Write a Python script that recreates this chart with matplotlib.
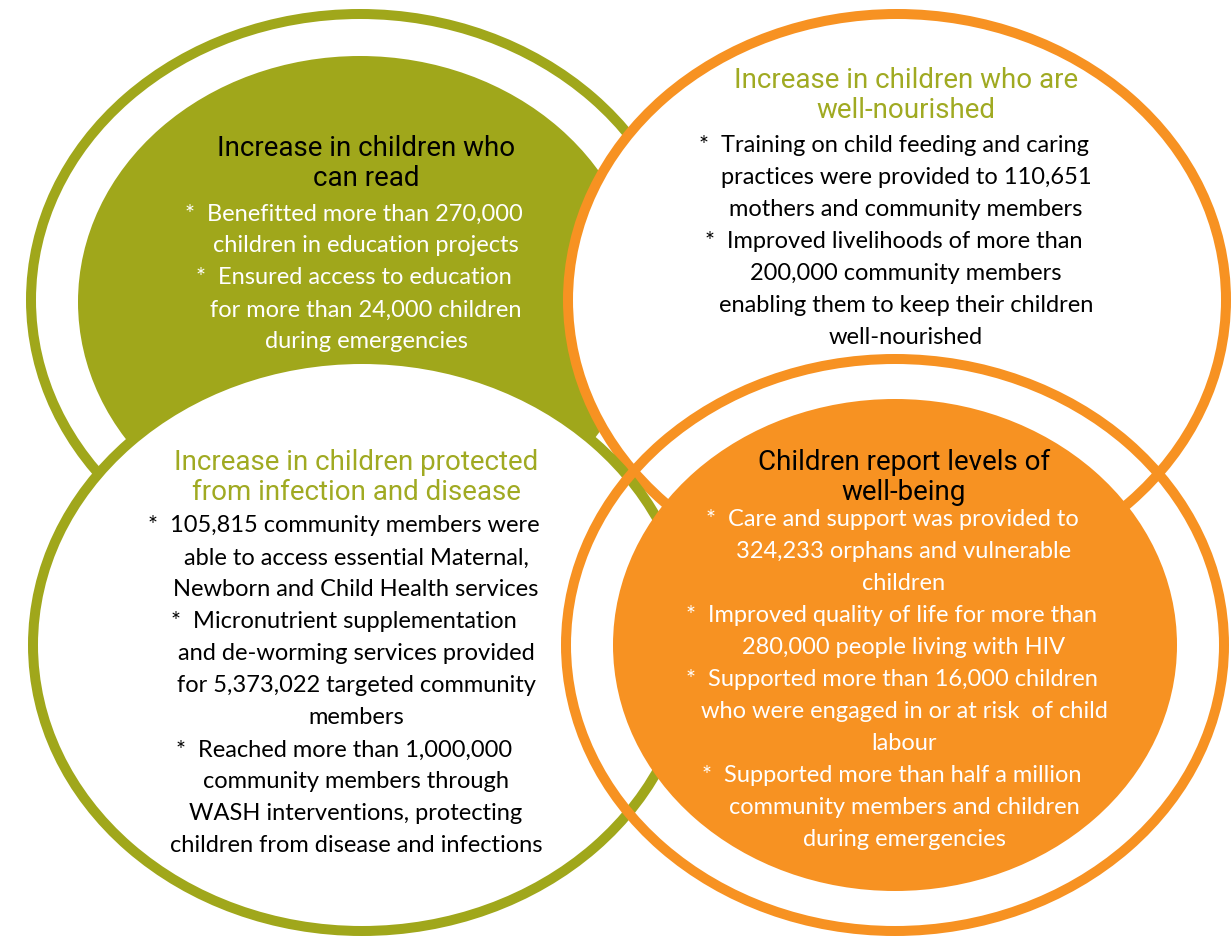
import matplotlib
matplotlib.use("Agg")
import matplotlib.pyplot as plt
from matplotlib.patches import Ellipse

OLIVE = "#A0A71B"
OLIVE_TEXT = "#A0AA22"
ORANGE = "#F79222"

# text content of the four circles
tl_heading = ["Increase in children who", "can read"]
tl_body = ["*  Benefitted more than 270,000",
           "children in education projects",
           "*  Ensured access to education",
           "for more than 24,000 children",
           "during emergencies"]

tr_heading = ["Increase in children who are", "well-nourished"]
tr_body = ["*  Training on child feeding and caring",
           "practices were provided to 110,651",
           "mothers and community members",
           "*  Improved livelihoods of more than",
           "200,000 community members",
           "enabling them to keep their children",
           "well-nourished"]

bl_heading = ["Increase in children protected", "from infection and disease"]
bl_body = ["*  105,815 community members were",
           "able to access essential Maternal,",
           "Newborn and Child Health services",
           "*  Micronutrient supplementation",
           "and de-worming services provided",
           "for 5,373,022 targeted community",
           "members",
           "*  Reached more than 1,000,000",
           "community members through",
           "WASH interventions, protecting",
           "children from disease and infections"]

br_heading = ["Children report levels of", "well-being"]
br_body = ["*  Care and support was provided to",
           "324,233 orphans and vulnerable",
           "children",
           "*  Improved quality of life for more than",
           "280,000 people living with HIV",
           "*  Supported more than 16,000 children",
           "who were engaged in or at risk  of child",
           "labour",
           "*  Supported more than half a million",
           "community members and children",
           "during emergencies"]

W, H = 1232, 938
fig = plt.figure(figsize=(W / 100, H / 100), dpi=100)
ax = fig.add_axes([0, 0, 1, 1])
ax.set_xlim(0, W)
ax.set_ylim(H, 0)
ax.axis("off")

RING_PX = 10
ring_lw = RING_PX * 72 / 100
A_OUT, B_OUT = 334, 291      # outer edge semi-axes
A_IN, B_IN = 282, 246        # inner filled disc


def ring(cx, cy, color, fill, z):
    ax.add_patch(Ellipse((cx, cy), 2 * (A_OUT - RING_PX / 2), 2 * (B_OUT - RING_PX / 2),
                         facecolor=fill, edgecolor=color, lw=ring_lw, zorder=z))


def disc(cx, cy, color, z):
    ax.add_patch(Ellipse((cx, cy), 2 * A_IN, 2 * B_IN, facecolor=color,
                         edgecolor="none", zorder=z))


# draw order matters: each circle covers parts of the earlier ones
ring(360, 300, OLIVE, "none", 1)
disc(360, 302, OLIVE, 1.5)
ring(897, 300, ORANGE, "white", 2)
ring(362, 645, OLIVE, "white", 3)
ring(895, 645, ORANGE, "none", 4)
disc(895, 645, ORANGE, 4.5)

STEP = 32


def block(cx, hy, by, heading, hcolor, body, bcolor):
    for i, line in enumerate(heading):
        ax.text(cx, hy + i * 31, line, ha="center", va="center", fontsize=20,
                family="Roboto", color=hcolor, zorder=10)
    for i, line in enumerate(body):
        x = cx - 12 if line.startswith("*") else cx
        ax.text(x, by + i * STEP, line, ha="center", va="center", fontsize=17,
                family="Lato", color=bcolor, zorder=10)


block(366, 148, 214, tl_heading, "black", tl_body, "white")
block(906, 80, 145, tr_heading, OLIVE_TEXT, tr_body, "black")
block(356, 462, 526, bl_heading, OLIVE_TEXT, bl_body, "black")
block(904, 462, 520, br_heading, "black", br_body, "white")

fig.savefig("out.png", dpi=100, facecolor="white")
